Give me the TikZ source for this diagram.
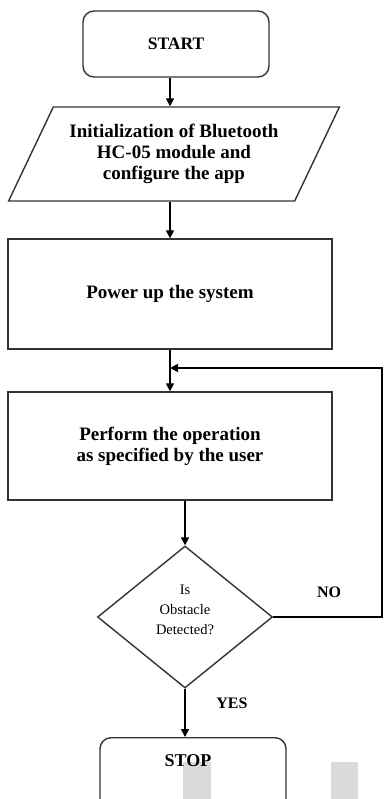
\documentclass[tikz,border=0pt]{standalone}
\usepackage{fontspec}
\setmainfont{Liberation Serif}
\usetikzlibrary{shapes.geometric, arrows.meta, calc, positioning}
\definecolor{edgegray}{HTML}{333333}
\definecolor{patchgray}{HTML}{DADADA}
\tikzset{
	boxtext/.style={font=\fontsize{19}{21}\selectfont\bfseries, align=center}
}
\tikzset{
	flowbox/.style={draw=edgegray, line width=1.4pt, boxtext, inner sep=0pt}
}
\tikzset{
	flowarrow/.style={line width=1.6pt, -{Triangle[length=8pt,width=8pt]}}
}
\tikzset{
	smalllabel/.style={font=\fontsize{16}{20}\selectfont\bfseries, align=center}
}

\begin{document}
\begin{tikzpicture}[x=1pt, y=-1pt]

			\useasboundingbox (0,0) rectangle (384,799);
			\clip (0,0) rectangle (384,799);

			\fill[patchgray] (183,762) rectangle (211,799);
			\fill[patchgray] (331,762) rectangle (358,799);

			\begin{scope}
				\node[flowbox, rounded corners=11pt, minimum width=186pt, minimum height=66pt,
					font=\fontsize{17.5}{21}\selectfont\bfseries] (start) at (176,44) {START};

				\node[flowbox, trapezium, trapezium left angle=57, trapezium right angle=123,
					trapezium stretches=true, minimum width=332pt, minimum height=94pt] (init) at (174,154)
					{Initialization of Bluetooth\\HC-05 module and\\configure the app};

				\node[flowbox, minimum width=324pt, minimum height=110pt] (power) at (170,294) {Power up the system};

				\node[flowbox, minimum width=324pt, minimum height=108pt] (perform) at (170,446)
					{Perform the operation\\as specified by the user};

				\node[flowbox, diamond, minimum width=175pt, minimum height=142pt,
					font=\fontsize{14.5}{20}\selectfont] (decide) at (185,617) {Is\\Obstacle\\Detected?\\[-6pt]};

				\node[flowbox, rounded corners=11pt, anchor=north, minimum width=186pt, fill=none,
					text height=13pt, text depth=50pt, inner ysep=16pt, font=\fontsize{18}{20}\selectfont\bfseries]
					(stop) at (193,737) {\hspace*{-10pt}STOP};
			\end{scope}

			\begin{scope}
				\draw[flowarrow] (start.south -| 170,0) -- (init.north -| 170,0);
				\draw[flowarrow] (init.south -| 170,0) -- (power.north -| 170,0);
				\draw[flowarrow] (power.south) -- (perform.north);
				\draw[flowarrow] (perform.south -| decide.north) -- (decide.north);
				\draw[flowarrow] (decide.south) -- (decide.south |- stop.north);

				\coordinate (loop) at (382,368);
				\draw[flowarrow] (decide.east) -| (loop) -- (power.south |- loop);

				\node[smalllabel] (nolabel) at (329,592) {NO};
				\node[smalllabel] (yeslabel) at (232,703) {YES};
			\end{scope}

		\end{tikzpicture}
\end{document}
